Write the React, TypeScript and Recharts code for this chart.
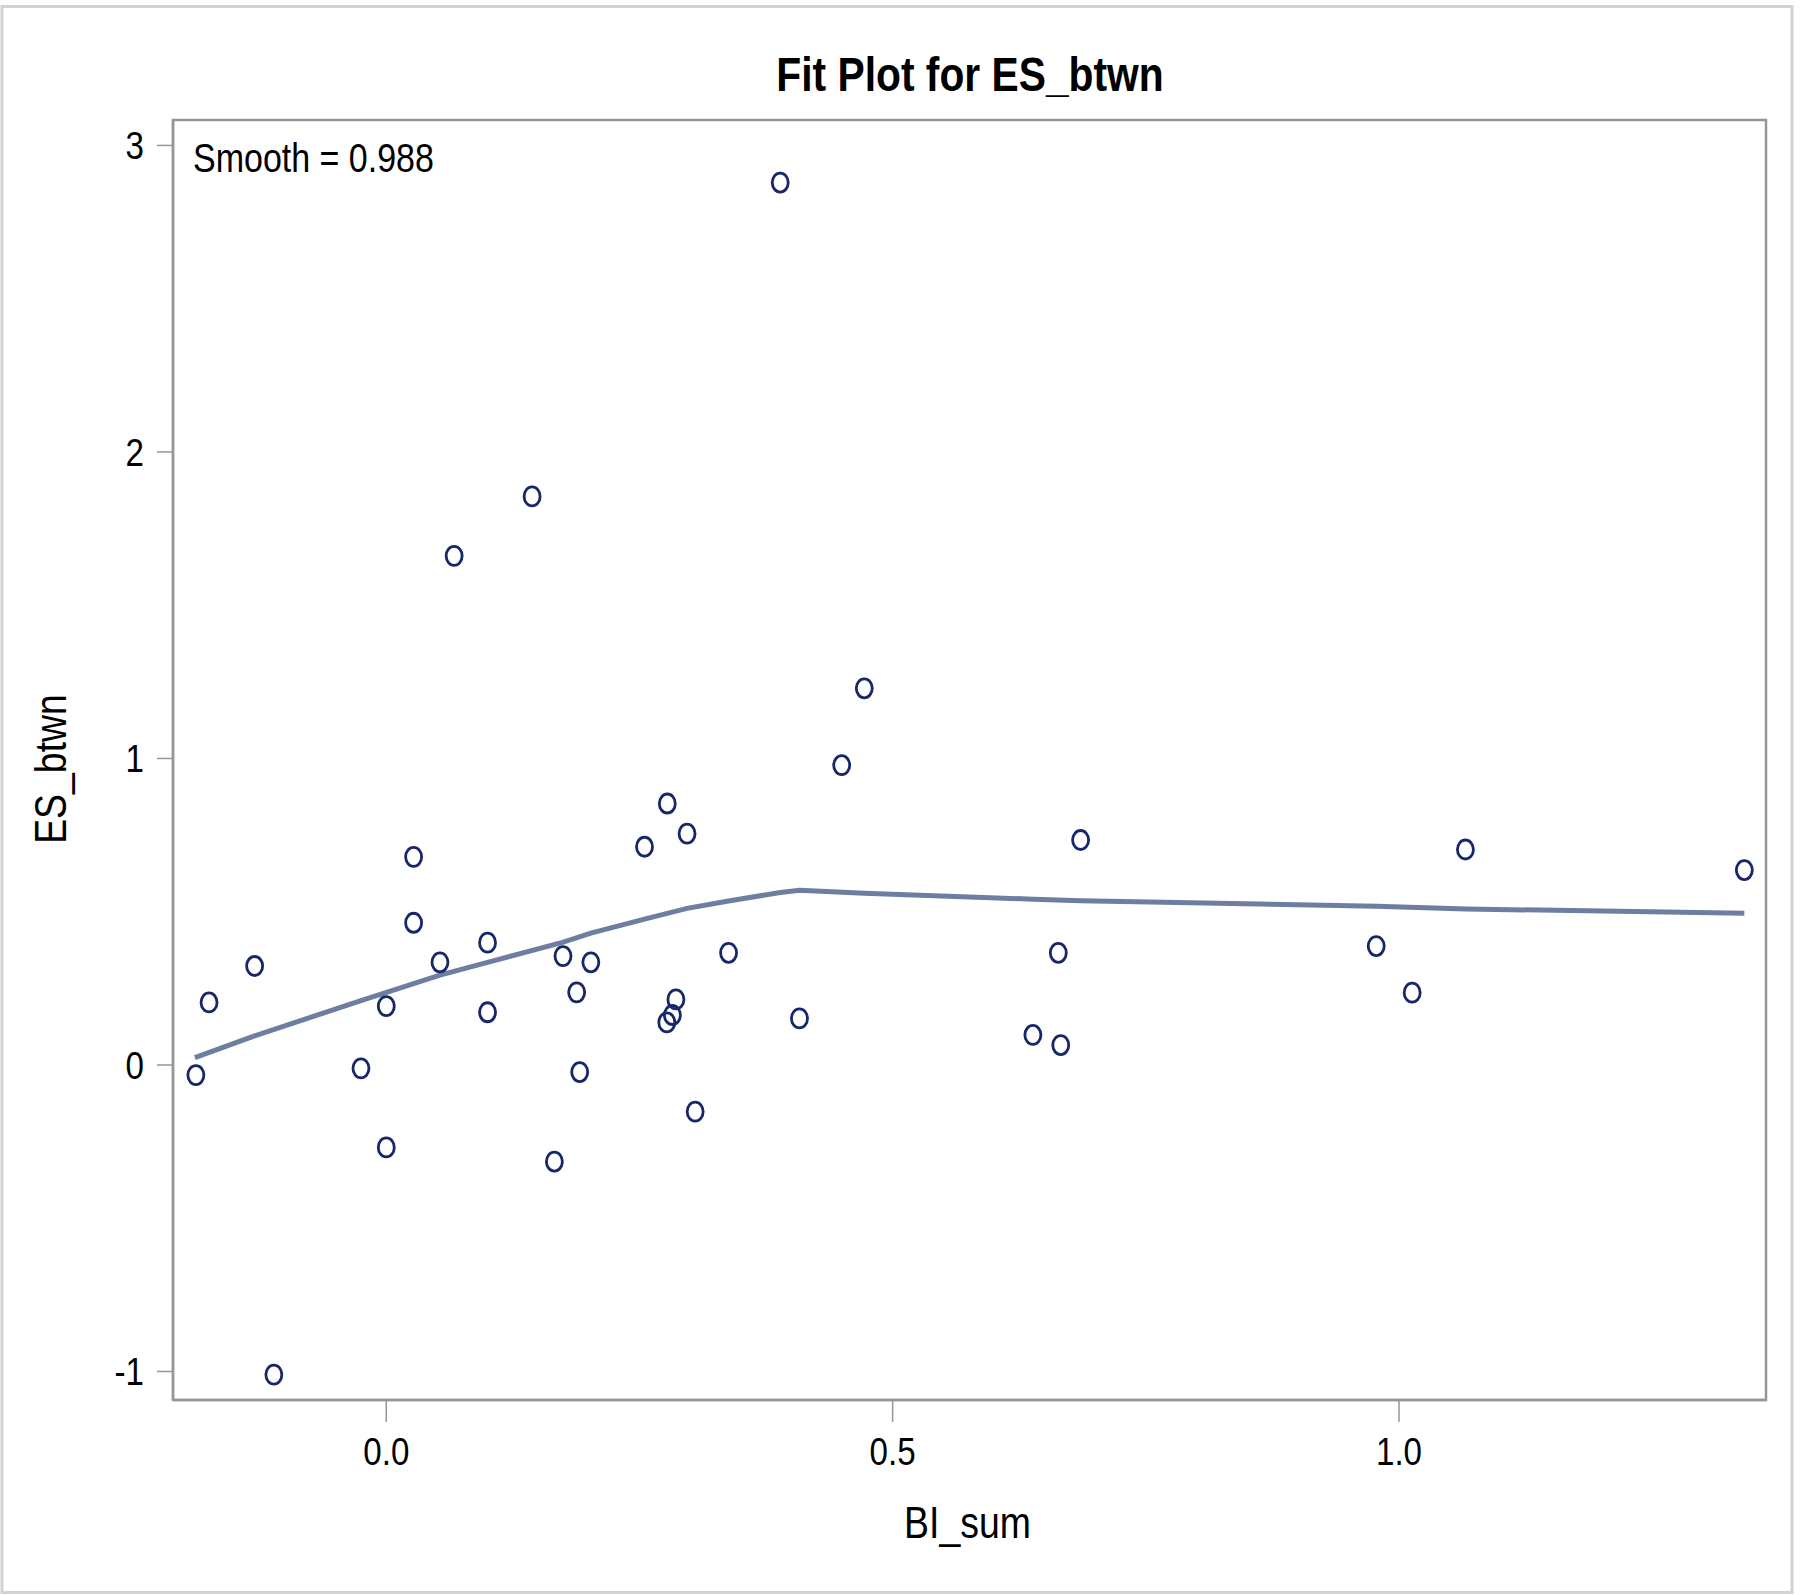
import React from 'react';
import { ScatterChart, Scatter, XAxis, YAxis } from 'recharts';

// ---- data ----
const biSum = [
  -0.188, -0.175, -0.13, -0.111, -0.025, 0.0, 0.0, 0.027, 0.027, 0.053,
  0.067, 0.1, 0.1, 0.144, 0.166, 0.1745, 0.188, 0.191, 0.202, 0.255,
  0.2775, 0.277, 0.2825, 0.286, 0.297, 0.305, 0.338, 0.389, 0.408, 0.4497,
  0.472, 0.6385, 0.6636, 0.666, 0.6856, 0.9775, 1.013, 1.0656, 1.341,
];
const esBtwn = [
  -0.033, 0.204, 0.323, -1.01, -0.011, 0.192, -0.269, 0.679, 0.464, 0.335,
  1.661, 0.399, 0.172, 1.855, -0.315, 0.355, 0.237, -0.023, 0.335, 0.712,
  0.853, 0.139, 0.163, 0.214, 0.755, -0.152, 0.366, 2.879, 0.152, 0.978,
  1.229, 0.098, 0.366, 0.065, 0.734, 0.388, 0.236, 0.703, 0.636,
];
const fitX = [
  -0.189, -0.13, -0.025, 0.053, 0.1, 0.174, 0.202, 0.255, 0.297, 0.338,
  0.389, 0.408, 0.472, 0.639, 0.686, 0.978, 1.066, 1.341,
];
const fitY = [
  0.024, 0.095, 0.21, 0.293, 0.335, 0.4, 0.43, 0.476, 0.511, 0.535,
  0.563, 0.57, 0.56, 0.541, 0.536, 0.518, 0.509, 0.495,
];
const xTicks = [0, 0.5, 1.0];
const yTicks = [-1, 0, 1, 2, 3];
const xDomain: [number, number] = [-0.2106, 1.3624];
const yDomain: [number, number] = [-1.093, 3.083];
const titleText = 'Fit Plot for ES_btwn';
const smoothText = 'Smooth = 0.988';
const xLabelText = 'BI_sum';
const yLabelText = 'ES_btwn';

const points = biSum.map((x, i) => ({ x, y: esBtwn[i] }));
const fit = fitX.map((x, i) => ({ x, y: fitY[i] }));

// ---- styles ----
const FONT = "'Liberation Sans', Arial, Helvetica, sans-serif";
const SX = 0.85;
const GRAY = '#969696';
const MARKER = '#18266a';
const LINE = '#6d7ea0';

const PLOT = { left: 173, top: 120, right: 34, bottom: 195 };
const W = 1800;
const H = 1595;

type CTextProps = {
  x: number;
  y: number;
  size: number;
  weight?: string | number;
  anchor?: 'start' | 'middle' | 'end';
  rotate?: boolean;
  children: React.ReactNode;
};

function CText({ x, y, size, weight = 'normal', anchor = 'start', rotate = false, children }: CTextProps) {
  const t = rotate
    ? `translate(${x},${y}) rotate(-90) scale(${SX},1)`
    : `translate(${x},${y}) scale(${SX},1)`;
  return (
    <text
      transform={t}
      textAnchor={anchor}
      fontFamily={FONT}
      fontSize={size}
      fontWeight={weight}
      fill="#000"
    >
      {children}
    </text>
  );
}

const XTick = (props: any) => {
  const { x, payload } = props;
  return (
    <CText x={x} y={1465} size={39} anchor="middle">
      {Number(payload.value).toFixed(1)}
    </CText>
  );
};

const YTick = (props: any) => {
  const { y, payload } = props;
  return (
    <CText x={144} y={y + 14} size={39} anchor="end">
      {String(payload.value)}
    </CText>
  );
};

const XLabel = (props: any) => {
  const vb = props.viewBox || {};
  return (
    <CText x={vb.x + vb.width / 2 - 2} y={1538} size={44} anchor="middle">
      {xLabelText}
    </CText>
  );
};

const YLabel = () => {
  return (
    <CText x={66} y={769} size={44} anchor="middle" rotate>
      {yLabelText}
    </CText>
  );
};

const Marker = (props: any) => {
  const { cx, cy } = props;
  if (cx == null || cy == null) return <g />;
  return <ellipse cx={cx} cy={cy} rx={8} ry={9.5} fill="none" stroke={MARKER} strokeWidth={2.8} />;
};

const NoMarker = () => <g />;

export default function App() {
  return (
    <div style={{ position: 'absolute', left: 0, top: 0, width: W, height: H, background: '#fff' }}>
      <ScatterChart width={W} height={H} margin={{ top: PLOT.top, right: PLOT.right, bottom: 0, left: 0 }}>
        <XAxis
          type="number"
          dataKey="x"
          domain={xDomain}
          ticks={xTicks}
          allowDataOverflow
          height={PLOT.bottom}
          tickSize={22}
          axisLine={{ stroke: GRAY, strokeWidth: 2.5 }}
          tickLine={{ stroke: GRAY, strokeWidth: 1.5 }}
          tick={<XTick />}
          label={<XLabel />}
        />
        <YAxis
          type="number"
          dataKey="y"
          domain={yDomain}
          ticks={yTicks}
          allowDataOverflow
          width={PLOT.left}
          tickSize={16}
          axisLine={{ stroke: GRAY, strokeWidth: 2.5 }}
          tickLine={{ stroke: GRAY, strokeWidth: 1.5 }}
          tick={<YTick />}
          label={<YLabel />}
        />
        <Scatter
          data={fit}
          line={{ stroke: LINE, strokeWidth: 5 }}
          lineType="joint"
          shape={<NoMarker />}
          isAnimationActive={false}
        />
        <Scatter data={points} shape={<Marker />} isAnimationActive={false} />
      </ScatterChart>
      <svg
        width={W}
        height={H}
        style={{ position: 'absolute', left: 0, top: 0, pointerEvents: 'none' }}
      >
        <rect x={2} y={6.5} width={1790} height={1586} fill="none" stroke="#d2d2d2" strokeWidth={3} />
        <rect
          x={PLOT.left}
          y={PLOT.top}
          width={W - PLOT.left - PLOT.right}
          height={H - PLOT.top - PLOT.bottom}
          fill="none"
          stroke={GRAY}
          strokeWidth={2.5}
        />
        <CText x={970} y={91} size={48} weight="bold" anchor="middle">
          {titleText}
        </CText>
        <CText x={193} y={172} size={40} anchor="start">
          {smoothText}
        </CText>
      </svg>
    </div>
  );
}
